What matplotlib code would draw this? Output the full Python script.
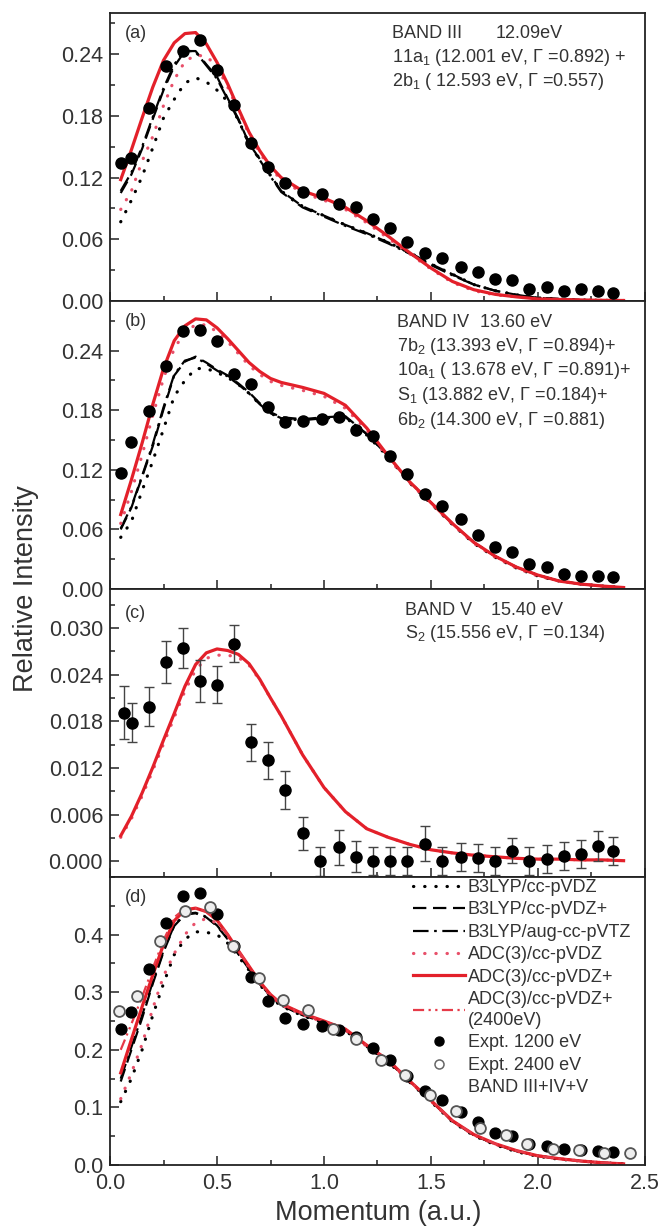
import matplotlib
matplotlib.use('Agg')
import matplotlib.pyplot as plt
from matplotlib.ticker import MultipleLocator, FormatStrFormatter, FixedLocator
from matplotlib.lines import Line2D

plt.rcParams['font.family'] = ['Liberation Sans', 'DejaVu Sans']
plt.rcParams['mathtext.fontset'] = 'custom'
plt.rcParams['mathtext.rm'] = 'Liberation Sans'
plt.rcParams['mathtext.it'] = 'Liberation Sans:italic'

# ---------------- data ----------------
X_THEORY = [0.05, 0.10, 0.15, 0.20, 0.25, 0.30, 0.35, 0.40, 0.45, 0.50, 0.55, 0.60,
            0.65, 0.70, 0.75, 0.80, 0.90, 1.00, 1.10, 1.20, 1.30, 1.40, 1.50, 1.60,
            1.70, 1.80, 1.90, 2.00, 2.10, 2.20, 2.30, 2.40]

X_EXP = [0.05, 0.10, 0.18, 0.26, 0.34, 0.42, 0.50, 0.58, 0.66, 0.74, 0.82, 0.90,
         0.99, 1.07, 1.15, 1.23, 1.31, 1.39, 1.47, 1.55, 1.64, 1.72, 1.80, 1.88,
         1.96, 2.04, 2.12, 2.20, 2.28, 2.35]
X_EXP_C = [0.065, 0.105, 0.18, 0.26, 0.34, 0.42, 0.50, 0.58, 0.66, 0.74, 0.82, 0.90,
           0.98, 1.07, 1.15, 1.23, 1.31, 1.39, 1.47, 1.55, 1.64, 1.72, 1.80, 1.88,
           1.96, 2.04, 2.12, 2.20, 2.28, 2.35]
X_2400 = [0.04, 0.125, 0.235, 0.35, 0.465, 0.575, 0.695, 0.81, 0.925, 1.04, 1.15,
          1.265, 1.38, 1.495, 1.615, 1.73, 1.85, 1.95, 2.07, 2.19, 2.31, 2.43]

# panel (a) BAND III
a_exp = [0.134, 0.139, 0.188, 0.228, 0.243, 0.254, 0.225, 0.191, 0.154, 0.130, 0.115, 0.106,
         0.104, 0.094, 0.091, 0.080, 0.071, 0.057, 0.047, 0.042, 0.033, 0.028, 0.021, 0.020,
         0.012, 0.014, 0.010, 0.012, 0.010, 0.008]
a_b3 = [0.077, 0.098, 0.121, 0.149, 0.178, 0.196, 0.212, 0.217, 0.213, 0.205, 0.194, 0.176,
        0.153, 0.138, 0.122, 0.107, 0.092, 0.083, 0.074, 0.066, 0.057, 0.047, 0.036, 0.026,
        0.016, 0.010, 0.006, 0.003, 0.002, 0.001, 0.0007, 0.0005]
a_b3_plus = [0.105, 0.123, 0.148, 0.177, 0.205, 0.228, 0.243, 0.243, 0.230, 0.218, 0.197, 0.177,
             0.153, 0.138, 0.122, 0.107, 0.092, 0.083, 0.074, 0.066, 0.057, 0.047, 0.036, 0.026,
             0.016, 0.010, 0.006, 0.003, 0.002, 0.001, 0.0007, 0.0005]
a_b3_aug = [0.107, 0.125, 0.150, 0.179, 0.207, 0.230, 0.244, 0.242, 0.229, 0.216, 0.196, 0.176,
            0.152, 0.137, 0.121, 0.106, 0.091, 0.082, 0.073, 0.065, 0.056, 0.046, 0.035, 0.025,
            0.016, 0.010, 0.006, 0.003, 0.002, 0.001, 0.0007, 0.0005]
a_adc = [0.089, 0.107, 0.136, 0.160, 0.190, 0.215, 0.233, 0.239, 0.238, 0.228, 0.208, 0.185,
         0.162, 0.144, 0.129, 0.118, 0.105, 0.098, 0.089, 0.076, 0.061, 0.046, 0.031, 0.018,
         0.010, 0.006, 0.004, 0.002, 0.0015, 0.001, 0.0007, 0.0005]
a_adc_plus = [0.118, 0.147, 0.178, 0.208, 0.234, 0.251, 0.260, 0.261, 0.250, 0.232, 0.211, 0.187,
              0.164, 0.146, 0.131, 0.120, 0.107, 0.100, 0.091, 0.078, 0.063, 0.047, 0.032, 0.019,
              0.011, 0.0065, 0.004, 0.002, 0.0015, 0.001, 0.0007, 0.0005]

# panel (b) BAND IV
b_exp = [0.117, 0.148, 0.179, 0.225, 0.260, 0.261, 0.250, 0.217, 0.206, 0.183, 0.168, 0.169,
         0.171, 0.173, 0.160, 0.154, 0.134, 0.116, 0.096, 0.084, 0.071, 0.054, 0.042, 0.037,
         0.025, 0.022, 0.015, 0.0134, 0.0128, 0.0118]
b_b3 = [0.052, 0.068, 0.099, 0.129, 0.161, 0.194, 0.210, 0.222, 0.222, 0.218, 0.213, 0.206,
        0.197, 0.186, 0.177, 0.172, 0.170, 0.172, 0.173, 0.155, 0.133, 0.107, 0.086, 0.065,
        0.046, 0.032, 0.021, 0.013, 0.008, 0.005, 0.003, 0.0015]
b_b3_plus = [0.060, 0.082, 0.113, 0.144, 0.181, 0.215, 0.229, 0.234, 0.228, 0.221, 0.215, 0.207,
             0.198, 0.187, 0.178, 0.173, 0.171, 0.173, 0.174, 0.156, 0.134, 0.108, 0.087, 0.066,
             0.047, 0.033, 0.022, 0.014, 0.008, 0.005, 0.003, 0.0015]
b_b3_aug = [0.061, 0.083, 0.114, 0.146, 0.183, 0.216, 0.230, 0.233, 0.227, 0.220, 0.214, 0.206,
            0.197, 0.186, 0.177, 0.172, 0.170, 0.172, 0.173, 0.156, 0.134, 0.108, 0.087, 0.066,
            0.047, 0.033, 0.022, 0.014, 0.008, 0.005, 0.003, 0.0015]
b_adc = [0.066, 0.098, 0.135, 0.175, 0.212, 0.242, 0.259, 0.266, 0.266, 0.259, 0.249, 0.237,
         0.225, 0.216, 0.209, 0.205, 0.200, 0.194, 0.182, 0.160, 0.132, 0.107, 0.086, 0.065,
         0.046, 0.032, 0.021, 0.013, 0.008, 0.005, 0.003, 0.0015]
b_adc_plus = [0.075, 0.110, 0.147, 0.186, 0.222, 0.250, 0.265, 0.272, 0.271, 0.263, 0.252, 0.240,
              0.228, 0.219, 0.212, 0.208, 0.203, 0.197, 0.185, 0.162, 0.134, 0.108, 0.087, 0.066,
              0.047, 0.033, 0.022, 0.014, 0.008, 0.005, 0.003, 0.0015]

# panel (c) BAND V
c_exp = [0.0191, 0.0178, 0.0199, 0.0256, 0.0274, 0.0232, 0.0227, 0.0280, 0.0153, 0.0130, 0.0092,
         0.0036, 0.0000, 0.0018, 0.0006, 0.0000, 0.0000, 0.0000, 0.0023, 0.0000, 0.0006, 0.0004,
         0.0000, 0.0014, 0.0000, 0.0003, 0.0007, 0.0009, 0.0020, 0.0013]
c_err = [0.0034, 0.0025, 0.0025, 0.0027, 0.0026, 0.0027, 0.0024, 0.0024, 0.0024, 0.0024, 0.0024,
         0.0021, 0.0019, 0.0023, 0.0020, 0.0018, 0.0018, 0.0018, 0.0022, 0.0018, 0.0018, 0.0018,
         0.0018, 0.0016, 0.0018, 0.0018, 0.0018, 0.0018, 0.0019, 0.0018]
c_adc = [0.0031, 0.0055, 0.0084, 0.0117, 0.0151, 0.0185, 0.0219, 0.0246, 0.0261, 0.0265, 0.0265,
         0.0262, 0.0252, 0.0233, 0.0210, 0.0187, 0.0137, 0.0095, 0.0064, 0.0042, 0.0031, 0.0022,
         0.0015, 0.0011, 0.0008, 0.0006, 0.0004, 0.0003, 0.0003, 0.0002, 0.0002, 0.0001]
c_adc_plus = [0.0033, 0.0058, 0.0088, 0.0121, 0.0156, 0.0190, 0.0225, 0.0253, 0.0268, 0.0273, 0.0271,
              0.0266, 0.0254, 0.0234, 0.0210, 0.0187, 0.0137, 0.0095, 0.0064, 0.0042, 0.0031, 0.0022,
              0.0015, 0.0011, 0.0008, 0.0006, 0.0004, 0.0003, 0.0003, 0.0002, 0.0002, 0.0001]

# panel (d) BAND III+IV+V
d_exp_1200 = [0.237, 0.266, 0.341, 0.421, 0.467, 0.472, 0.436, 0.380, 0.327, 0.285, 0.256, 0.245,
              0.242, 0.234, 0.222, 0.204, 0.182, 0.155, 0.129, 0.113, 0.092, 0.074, 0.056, 0.050,
              0.036, 0.033, 0.027, 0.026, 0.025, 0.022]
d_exp_2400 = [0.267, 0.293, 0.389, 0.441, 0.448, 0.380, 0.325, 0.286, 0.270, 0.236, 0.219, 0.183,
              0.156, 0.122, 0.094, 0.065, 0.052, 0.036, 0.028, 0.026, 0.021, 0.021]
d_b3 = [0.110, 0.150, 0.200, 0.260, 0.315, 0.365, 0.392, 0.405, 0.404, 0.400, 0.385, 0.362,
        0.338, 0.313, 0.291, 0.276, 0.259, 0.247, 0.233, 0.206, 0.179, 0.144, 0.110, 0.075,
        0.051, 0.035, 0.023, 0.015, 0.010, 0.007, 0.004, 0.002]
d_b3_plus = [0.145, 0.200, 0.255, 0.315, 0.370, 0.415, 0.435, 0.437, 0.430, 0.415, 0.392, 0.366,
             0.340, 0.314, 0.292, 0.277, 0.260, 0.248, 0.234, 0.207, 0.180, 0.145, 0.111, 0.076,
             0.052, 0.036, 0.024, 0.016, 0.011, 0.007, 0.004, 0.002]
d_b3_aug = [0.150, 0.205, 0.260, 0.318, 0.372, 0.416, 0.436, 0.438, 0.431, 0.416, 0.393, 0.367,
            0.341, 0.315, 0.293, 0.278, 0.261, 0.249, 0.235, 0.208, 0.181, 0.146, 0.112, 0.077,
            0.052, 0.036, 0.024, 0.016, 0.011, 0.007, 0.004, 0.002]
d_adc = [0.115, 0.160, 0.210, 0.272, 0.328, 0.367, 0.400, 0.421, 0.428, 0.420, 0.398, 0.370,
         0.343, 0.316, 0.294, 0.278, 0.261, 0.248, 0.234, 0.206, 0.180, 0.145, 0.111, 0.076,
         0.052, 0.036, 0.024, 0.016, 0.011, 0.007, 0.004, 0.002]
d_adc_plus = [0.160, 0.218, 0.275, 0.330, 0.383, 0.424, 0.443, 0.446, 0.440, 0.425, 0.400, 0.372,
              0.345, 0.318, 0.296, 0.280, 0.263, 0.250, 0.236, 0.208, 0.182, 0.146, 0.112, 0.077,
              0.053, 0.037, 0.025, 0.016, 0.011, 0.007, 0.004, 0.002]
d_adc_2400 = [0.200, 0.245, 0.292, 0.342, 0.390, 0.430, 0.445, 0.446, 0.440, 0.425, 0.400, 0.372,
              0.345, 0.318, 0.296, 0.280, 0.263, 0.250, 0.236, 0.208, 0.182, 0.146, 0.112, 0.077,
              0.053, 0.037, 0.025, 0.016, 0.011, 0.007, 0.004, 0.002]

LABELS = ['B3LYP/cc-pVDZ', 'B3LYP/cc-pVDZ+', 'B3LYP/aug-cc-pVTZ', 'ADC(3)/cc-pVDZ',
          'ADC(3)/cc-pVDZ+', 'ADC(3)/cc-pVDZ+\n(2400eV)', 'Expt. 1200 eV', 'Expt. 2400 eV',
          'BAND III+IV+V']

# ---------------- styles ----------------
RED = '#e3202a'
PINK = '#e8506a'
TXT = '#333333'
STY = {
    'b3': dict(color='black', lw=2.3, ls=(0, (0.1, 3.4)), dash_capstyle='round'),
    'b3p': dict(color='black', lw=1.6, ls=(0, (6, 3))),
    'b3a': dict(color='black', lw=1.6, ls=(0, (7, 2.5, 1.2, 2.5))),
    'adc': dict(color=PINK, lw=2.3, ls=(0, (0.1, 3.4)), dash_capstyle='round'),
    'adcp': dict(color=RED, lw=2.3, ls='-'),
    'adc24': dict(color='#e63a48', lw=1.6, ls=(0, (5, 2, 1, 2, 1, 2))),
}

fig = plt.figure(figsize=(6.58, 12.27), dpi=100)
axes = fig.subplots(4, 1, sharex=True, gridspec_kw=dict(hspace=0))
fig.subplots_adjust(left=0.1672, right=0.9802, top=0.9894, bottom=0.0505)
ax_a, ax_b, ax_c, ax_d = axes

def theory(ax, ys, keys):
    for y, k in zip(ys, keys):
        ax.plot(X_THEORY, y, zorder=2, **STY[k])

theory(ax_a, [a_b3, a_b3_plus, a_b3_aug, a_adc, a_adc_plus], ['b3', 'b3p', 'b3a', 'adc', 'adcp'])
theory(ax_b, [b_b3, b_b3_plus, b_b3_aug, b_adc, b_adc_plus], ['b3', 'b3p', 'b3a', 'adc', 'adcp'])
theory(ax_c, [c_adc, c_adc_plus], ['adc', 'adcp'])
theory(ax_d, [d_b3, d_b3_plus, d_b3_aug, d_adc, d_adc_plus, d_adc_2400],
       ['b3', 'b3p', 'b3a', 'adc', 'adcp', 'adc24'])

MS = 8.0
ax_a.plot(X_EXP, a_exp, 'o', color='black', ms=MS, zorder=3)
ax_b.plot(X_EXP, b_exp, 'o', color='black', ms=MS, zorder=3)
ax_c.errorbar(X_EXP_C, c_exp, yerr=c_err, fmt='o', color='black', ms=MS, ecolor='#444444',
              elinewidth=1.0, capsize=3.4, capthick=1.0, zorder=3)
ax_d.plot(X_EXP, d_exp_1200, 'o', color='black', ms=7.8, zorder=3)
ax_d.errorbar(X_2400, d_exp_2400, yerr=[0.002] * len(X_2400), fmt='o', ms=7.8,
              mfc='#eeeeee', mec='#555555', mew=1.3, ecolor='#777777', elinewidth=1.0,
              capsize=2.8, capthick=1.1, zorder=4)

# ---------------- axes formatting ----------------
ax_a.set_ylim(0, 0.28)
ax_b.set_ylim(0, 0.29)
ax_c.set_ylim(-0.002, 0.035)
ax_d.set_ylim(0, 0.5)
ax_d.set_xlim(0, 2.5)

for ax in (ax_a, ax_b):
    ax.yaxis.set_major_locator(FixedLocator([0.0, 0.06, 0.12, 0.18, 0.24]))
    ax.yaxis.set_minor_locator(MultipleLocator(0.03))
    ax.yaxis.set_major_formatter(FormatStrFormatter('%.2f'))
ax_c.yaxis.set_major_locator(FixedLocator([0.0, 0.006, 0.012, 0.018, 0.024, 0.030]))
ax_c.yaxis.set_minor_locator(MultipleLocator(0.003))
ax_c.yaxis.set_major_formatter(FormatStrFormatter('%.3f'))
ax_d.yaxis.set_major_locator(FixedLocator([0.0, 0.1, 0.2, 0.3, 0.4]))
ax_d.yaxis.set_minor_locator(MultipleLocator(0.05))
ax_d.yaxis.set_major_formatter(FormatStrFormatter('%.1f'))
ax_d.xaxis.set_major_locator(MultipleLocator(0.5))
ax_d.xaxis.set_minor_locator(MultipleLocator(0.25))
ax_d.xaxis.set_major_formatter(FormatStrFormatter('%.1f'))

for ax in axes:
    ax.tick_params(which='both', direction='in', top=False, right=False, width=1.1,
                   colors='#222222', labelcolor=TXT, labelsize=15.5)
    ax.tick_params(which='major', length=6.5)
    ax.tick_params(which='minor', length=3.5)
    ax.tick_params(axis='y', pad=5)
    ax.tick_params(axis='x', pad=6)
    for s in ax.spines.values():
        s.set_linewidth(1.3)
        s.set_color('#222222')

fig.text(0.040, 0.52, 'Relative Intensity', rotation=90, ha='center', va='center',
         fontsize=19.5, color=TXT)
fig.text(0.574, 0.0115, 'Momentum (a.u.)', ha='center', va='center', fontsize=19.5, color=TXT)

# ---------------- annotations ----------------
FS = 13
for ax, lab, yy in ((ax_a, '(a)', 0.93), (ax_b, '(b)', 0.93), (ax_c, '(c)', 0.915), (ax_d, '(d)', 0.93)):
    ax.text(0.027, yy, lab, transform=ax.transAxes, ha='left', va='center', fontsize=FS, color=TXT)

def lines(ax, x, ys, texts):
    for y, t in zip(ys, texts):
        ax.text(x, y, t, transform=ax.transAxes, ha='left', va='center', fontsize=FS, color=TXT)

lines(ax_a, 0.527, [0.928, 0.845, 0.762],
      ['BAND III', r'11a$_\mathregular{1}$ (12.001 eV, Γ =0.892) +',
       r'2b$_\mathregular{1}$ ( 12.593 eV, Γ =0.557)'])
lines(ax_a, 0.72, [0.928], ['12.09eV'])
lines(ax_b, 0.536, [0.926, 0.842, 0.757, 0.671, 0.585],
      ['BAND IV', r'7b$_\mathregular{2}$ (13.393 eV, Γ =0.894)+',
       r'10a$_\mathregular{1}$ ( 13.678 eV, Γ =0.891)+',
       r'S$_\mathregular{1}$ (13.882 eV, Γ =0.184)+',
       r'6b$_\mathregular{2}$ (14.300 eV, Γ =0.881)'])
lines(ax_b, 0.692, [0.926], ['13.60 eV'])
lines(ax_c, 0.552, [0.927, 0.845],
      ['BAND V', r'S$_\mathregular{2}$ (15.556 eV, Γ =0.134)'])
lines(ax_c, 0.713, [0.927], ['15.40 eV'])

# ---------------- legend (panel d) ----------------
handles = [
    Line2D([], [], **STY['b3']),
    Line2D([], [], **STY['b3p']),
    Line2D([], [], **STY['b3a']),
    Line2D([], [], **STY['adc']),
    Line2D([], [], **STY['adcp']),
    Line2D([], [], **STY['adc24']),
    Line2D([], [], ls='none', marker='o', color='black', ms=6.5),
    Line2D([], [], ls='none', marker='o', mfc='white', mec='#666666', ms=6.5, mew=1.1),
    Line2D([], [], ls='none'),
]
leg = ax_d.legend(handles, LABELS, loc='upper left', bbox_to_anchor=(0.566, 0.993),
                  frameon=False, fontsize=FS, borderpad=0, borderaxespad=0,
                  handlelength=2.9, handletextpad=0.15, labelspacing=0.30)
for t in leg.get_texts():
    t.set_color(TXT)
    t.set_linespacing(1.3)

fig.savefig('out.png', dpi=100)
